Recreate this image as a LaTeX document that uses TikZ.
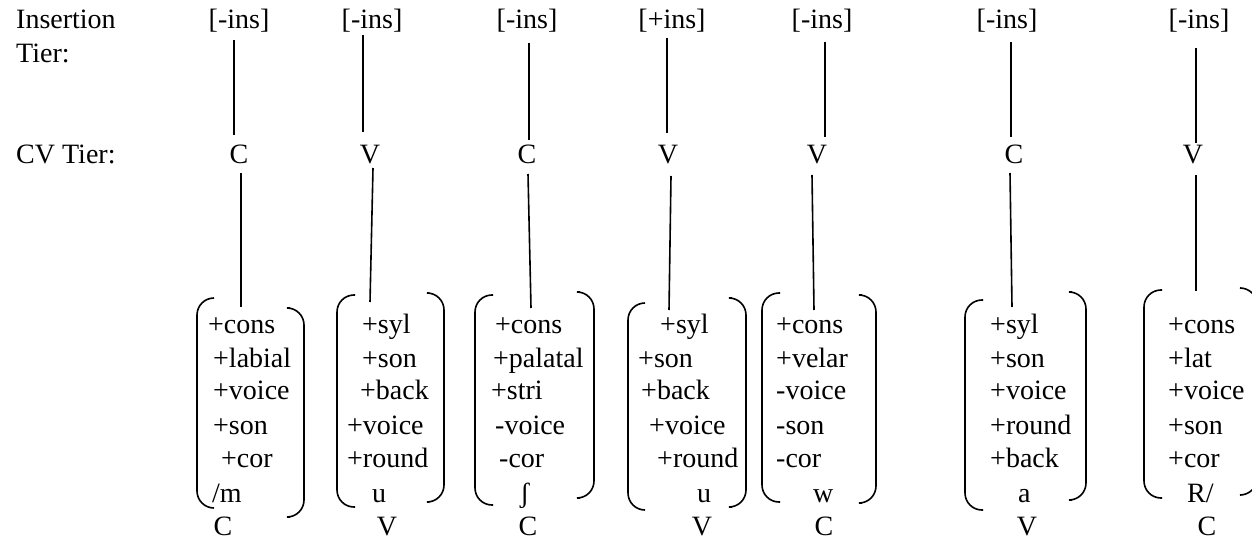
\documentclass[tikz,border=0pt]{standalone}
\usepackage{fontspec}
\setmainfont{Liberation Serif}
\begin{document}
\begin{tikzpicture}[x=1pt,y=-1pt,
  txt/.style={inner sep=0pt,anchor=base west,font=\fontsize{28}{34}\selectfont},
  ctr/.style={inner sep=0pt,anchor=base,font=\fontsize{28}{34}\selectfont},
  ln/.style={line width=1.6pt},
  br/.style={line width=1.6pt,rounded corners=17pt}]
\useasboundingbox (0,0) rectangle (1252,540);
% row labels
\node[txt] (lab1) at (16,29) {Insertion};
\node[txt] (lab2) at (16,63) {Tier:};
\node[txt] (lab3) at (16,164) {CV Tier:};
% insertion tier
\node[ctr] (i1) at (239,29) {[-ins]};
\node[ctr] (i2) at (372,29) {[-ins]};
\node[ctr] (i3) at (527,29) {[-ins]};
\node[ctr] (i4) at (672,29) {[+ins]};
\node[ctr] (i5) at (822,29) {[-ins]};
\node[ctr] (i6) at (1007,29) {[-ins]};
\node[ctr] (i7) at (1199,29) {[-ins]};
% CV tier
\node[ctr] (c1) at (239,164) {C};
\node[ctr] (c2) at (370,164) {V};
\node[ctr] (c3) at (527,164) {C};
\node[ctr] (c4) at (668,164) {V};
\node[ctr] (c5) at (817,164) {V};
\node[ctr] (c6) at (1014,164) {C};
\node[ctr] (c7) at (1193,164) {V};
% connector end points
\coordinate (ia1) at (234,40);  \coordinate (ib1) at (234,135);
\coordinate (ia2) at (363,35);  \coordinate (ib2) at (363,132);
\coordinate (ia3) at (529,43);  \coordinate (ib3) at (529,140);
\coordinate (ia4) at (667,38);  \coordinate (ib4) at (667,133);
\coordinate (ia5) at (825,42);  \coordinate (ib5) at (825,137);
\coordinate (ia6) at (1011,42); \coordinate (ib6) at (1011,137);
\coordinate (ia7) at (1196,48); \coordinate (ib7) at (1196,143);
\coordinate (ca1) at (241,173);  \coordinate (cb1) at (241,307);
\coordinate (ca2) at (373,168);  \coordinate (cb2) at (370,302);
\coordinate (ca3) at (528,174);  \coordinate (cb3) at (531,308);
\coordinate (ca4) at (671,176);  \coordinate (cb4) at (669,310);
\coordinate (ca5) at (812,175);  \coordinate (cb5) at (814,310);
\coordinate (ca6) at (1010,173); \coordinate (cb6) at (1012,307);
\coordinate (ca7) at (1196,175); \coordinate (cb7) at (1196,291);
\foreach \k in {1,...,7}{
  \draw[ln] (ia\k) -- (ib\k);
  \draw[ln] (ca\k) -- (cb\k);
}
% brackets: left
\draw[br] (214,298) -- (197,298) -- (197,508) -- (214,508);
\draw[br] (355,295) -- (337,295) -- (337,507) -- (355,507);
\draw[br] (493,295) -- (475,295) -- (475,505) -- (493,505);
\draw[br] (645,303) -- (628,303) -- (628,510) -- (645,510);
\draw[br] (780,293) -- (762,293) -- (762,502) -- (780,502);
\draw[br] (983,300) -- (965,300) -- (965,510) -- (983,510);
\draw[br] (1162,290) -- (1144,290) -- (1144,498) -- (1162,498);
% brackets: right
\draw[br] (290,308) -- (304,308) -- (304,517) -- (290,517);
\draw[br] (429,293) -- (444,293) -- (444,502) -- (429,502);
\draw[br] (580,292) -- (594,292) -- (594,498) -- (580,498);
\draw[br] (732,298) -- (746,298) -- (746,507) -- (732,507);
\draw[br] (862,295) -- (876,295) -- (876,503) -- (862,503);
\draw[br] (1072,292) -- (1086,292) -- (1086,500) -- (1072,500);
\draw[br] (1241,288) -- (1257,288) -- (1257,495) -- (1241,495);
% column 1
\node[txt] (f11) at (208,333) {+cons};
\node[txt] (f12) at (213,367) {+labial};
\node[txt] (f13) at (213,399) {+voice};
\node[txt] (f14) at (213,434) {+son};
\node[txt] (f15) at (221,467) {+cor};
\node[txt] (f16) at (212,502) {/m};
\node[ctr] (b1) at (223,535) {C};
% column 2
\node[txt] (f21) at (362,333) {+syl};
\node[txt] (f22) at (362,367) {+son};
\node[txt] (f23) at (360,399) {+back};
\node[txt] (f24) at (347,434) {+voice};
\node[txt] (f25) at (347,467) {+round};
\node[txt] (f26) at (372,502) {u};
\node[ctr] (b2) at (387,535) {V};
% column 3
\node[txt] (f31) at (495,333) {+cons};
\node[txt] (f32) at (493,367) {+palatal};
\node[txt] (f33) at (491,399) {+stri};
\node[txt] (f34) at (495,434) {-voice};
\node[txt] (f35) at (499,467) {-cor};
\node[txt] (f36) at (520,502) {ʃ};
\node[ctr] (b3) at (528,535) {C};
% column 4
\node[txt] (f41) at (660,333) {+syl};
\node[txt] (f42) at (638,367) {+son};
\node[txt] (f43) at (641,399) {+back};
\node[txt] (f44) at (649,434) {+voice};
\node[txt] (f45) at (657,467) {+round};
\node[txt] (f46) at (697,502) {u};
\node[ctr] (b4) at (702,535) {V};
% column 5
\node[txt] (f51) at (776,333) {+cons};
\node[txt] (f52) at (776,367) {+velar};
\node[txt] (f53) at (776,399) {-voice};
\node[txt] (f54) at (776,434) {-son};
\node[txt] (f55) at (776,467) {-cor};
\node[txt] (f56) at (813,502) {w};
\node[ctr] (b5) at (824,535) {C};
% column 6
\node[txt] (f61) at (990,333) {+syl};
\node[txt] (f62) at (990,367) {+son};
\node[txt] (f63) at (990,399) {+voice};
\node[txt] (f64) at (990,434) {+round};
\node[txt] (f65) at (990,467) {+back};
\node[txt] (f66) at (1018,502) {a};
\node[ctr] (b6) at (1027,535) {V};
% column 7
\node[txt] (f71) at (1168,333) {+cons};
\node[txt] (f72) at (1168,367) {+lat};
\node[txt] (f73) at (1168,399) {+voice};
\node[txt] (f74) at (1168,434) {+son};
\node[txt] (f75) at (1168,467) {+cor};
\node[txt] (f76) at (1187,502) {R/};
\node[ctr] (b7) at (1207,535) {C};
\end{tikzpicture}
\end{document}
